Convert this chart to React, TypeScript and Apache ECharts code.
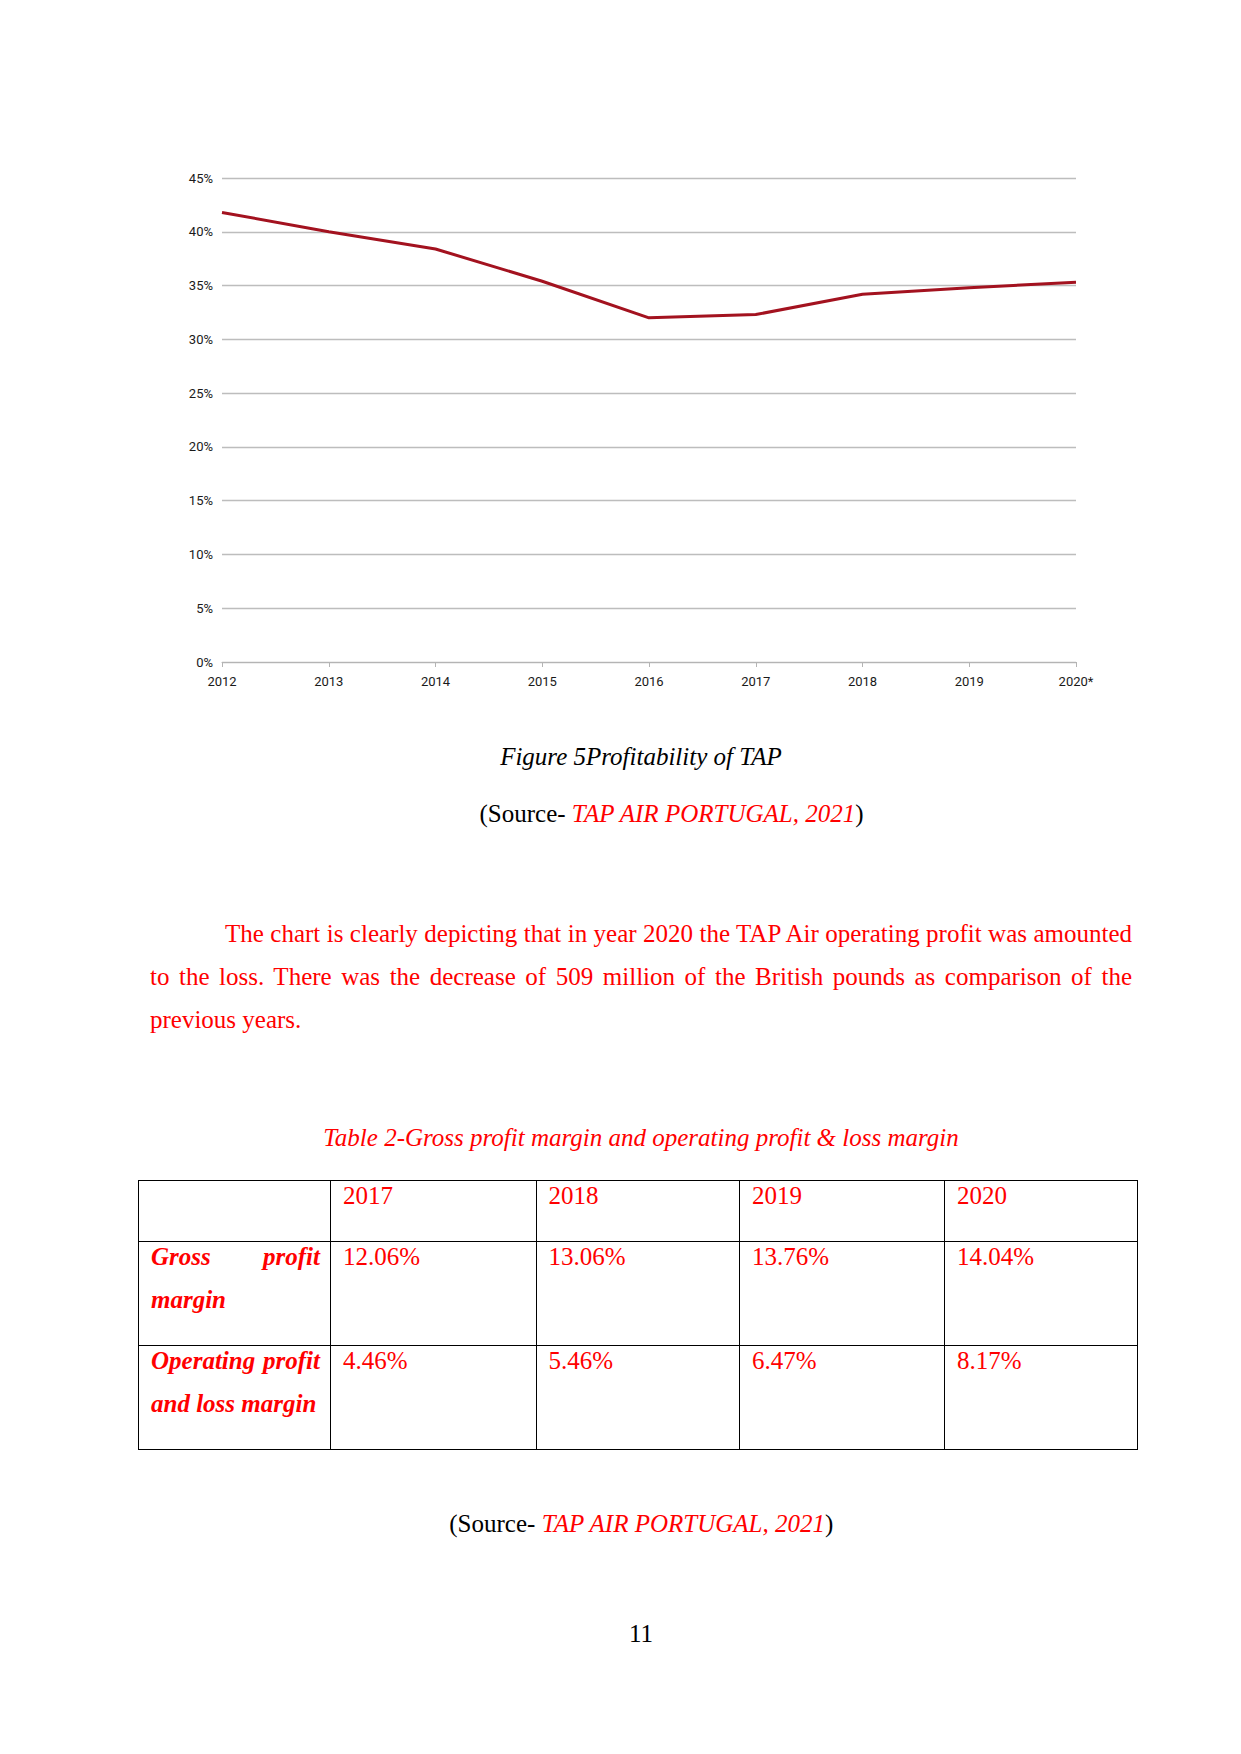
import React, { useEffect, useRef } from "react";
import * as echarts from "echarts";

const years = ["2012", "2013", "2014", "2015", "2016", "2017", "2018", "2019", "2020*"];
const profitability = [41.8, 40.0, 38.4, 35.4, 32.0, 32.3, 34.2, 34.8, 35.3];
const yTicks = { min: 0, max: 45, interval: 5 };

const tableYears = ["2017", "2018", "2019", "2020"];
const grossMargin = ["12.06%", "13.06%", "13.76%", "14.04%"];
const operatingMargin = ["4.46%", "5.46%", "6.47%", "8.17%"];

const RED = "#ff0000";
const SERIF = "'Liberation Serif', 'Times New Roman', serif";
const NARROW = "'Liberation Sans Narrow', 'Arial Narrow', Roboto, sans-serif";

function Chart() {
  const ref = useRef<HTMLDivElement>(null);
  useEffect(() => {
    if (!ref.current) return;
    const chart = echarts.init(ref.current, null, { renderer: "svg" });
    chart.setOption({
      animation: false,
      backgroundColor: "transparent",
      grid: { left: 222, top: 178, width: 854, height: 484, containLabel: false },
      xAxis: {
        type: "category",
        data: years,
        boundaryGap: false,
        axisLine: { show: true, lineStyle: { color: "#b4b4b4", width: 1 } },
        axisTick: { show: true, length: 5, lineStyle: { color: "#b4b4b4" } },
        axisLabel: { color: "#1a1a1a", fontFamily: NARROW, fontSize: 13, margin: 13 },
        splitLine: { show: false },
      },
      yAxis: {
        type: "value",
        min: yTicks.min,
        max: yTicks.max,
        interval: yTicks.interval,
        axisLine: { show: false },
        axisTick: { show: false },
        axisLabel: { color: "#1a1a1a", fontFamily: NARROW, fontSize: 13, margin: 9, formatter: "{value}%" },
        splitLine: { show: true, lineStyle: { color: "#bdbdbd", width: 1.3 } },
      },
      series: [
        {
          type: "line",
          data: profitability,
          symbol: "none",
          smooth: false,
          lineStyle: { color: "#a3121f", width: 3 },
          itemStyle: { color: "#a3121f" },
        },
      ],
    });
    return () => chart.dispose();
  }, []);
  return <div ref={ref} style={{ position: "absolute", left: 0, top: 0, width: 1241, height: 720 }} />;
}

const cellStyle: React.CSSProperties = {
  border: "1px solid #000",
  verticalAlign: "top",
  padding: "0 10px 0 12px",
  color: RED,
  fontSize: 25,
  lineHeight: "43px",
};

function Cell({ children }: { children: React.ReactNode }) {
  return (
    <td style={cellStyle}>
      <div style={{ position: "relative", top: -7 }}>{children}</div>
    </td>
  );
}

function LabelCell({ first, second }: { first: string; second: string }) {
  return (
    <td style={{ ...cellStyle, fontWeight: "bold", fontStyle: "italic" }}>
      <div style={{ position: "relative", top: -7 }}>
        <div style={{ textAlign: "justify", textAlignLast: "justify", whiteSpace: "nowrap" } as React.CSSProperties}>{first}</div>
        <div>{second}</div>
      </div>
    </td>
  );
}

export default function App() {
  return (
    <div
      style={{
        position: "absolute",
        left: 0,
        top: 0,
        width: 1241,
        height: 1754,
        background: "#fff",
        fontFamily: SERIF,
        overflow: "hidden",
      }}
    >
      <Chart />

      <div style={{ position: "absolute", left: 150, width: 982, top: 741.6, lineHeight: "30px", fontSize: 25, textAlign: "center", fontStyle: "italic", color: "#000" }}>
        Figure 5Profitability of TAP
      </div>
      <div style={{ position: "absolute", left: 479.5, top: 798.6, lineHeight: "30px", fontSize: 25, whiteSpace: "nowrap", color: "#000" }}>
        (Source- <span style={{ color: RED, fontStyle: "italic" }}>TAP AIR PORTUGAL, 2021</span>)
      </div>

      <div style={{ position: "absolute", left: 150, width: 982, top: 912, lineHeight: "43px", fontSize: 25, color: RED }}>
        <div style={{ paddingLeft: 75, textAlign: "justify", textAlignLast: "justify", whiteSpace: "nowrap" } as React.CSSProperties}>
          The chart is clearly depicting that in year 2020 the TAP Air operating profit was amounted
        </div>
        <div style={{ textAlign: "justify", textAlignLast: "justify", whiteSpace: "nowrap" } as React.CSSProperties}>
          to the loss. There was the decrease of 509 million of the British pounds as comparison of the
        </div>
        <div>previous years.</div>
      </div>

      <div style={{ position: "absolute", left: 150, width: 982, top: 1122.6, lineHeight: "30px", fontSize: 25, textAlign: "center", fontStyle: "italic", color: RED }}>
        Table 2-Gross profit margin and operating profit &amp; loss margin
      </div>

      <table
        style={{
          position: "absolute",
          left: 138,
          top: 1180,
          width: 999,
          borderCollapse: "collapse",
          tableLayout: "fixed",
          fontFamily: SERIF,
        }}
      >
        <colgroup>
          <col style={{ width: 192 }} />
          <col style={{ width: 205.5 }} />
          <col style={{ width: 203.5 }} />
          <col style={{ width: 205 }} />
          <col style={{ width: 193 }} />
        </colgroup>
        <tbody>
          <tr style={{ height: 61 }}>
            <Cell>{""}</Cell>
            {tableYears.map((y) => (
              <Cell key={y}>{y}</Cell>
            ))}
          </tr>
          <tr style={{ height: 104 }}>
            <LabelCell first="Gross profit" second="margin" />
            {grossMargin.map((v, i) => (
              <Cell key={i}>{v}</Cell>
            ))}
          </tr>
          <tr style={{ height: 104 }}>
            <LabelCell first="Operating profit" second="and loss margin" />
            {operatingMargin.map((v, i) => (
              <Cell key={i}>{v}</Cell>
            ))}
          </tr>
        </tbody>
      </table>

      <div style={{ position: "absolute", left: 449.3, top: 1508.6, lineHeight: "30px", fontSize: 25, whiteSpace: "nowrap", color: "#000" }}>
        (Source- <span style={{ color: RED, fontStyle: "italic" }}>TAP AIR PORTUGAL, 2021</span>)
      </div>

      <div style={{ position: "absolute", left: 150, width: 982, top: 1619.3, lineHeight: "30px", fontSize: 25, textAlign: "center", color: "#000" }}>
        11
      </div>
    </div>
  );
}
